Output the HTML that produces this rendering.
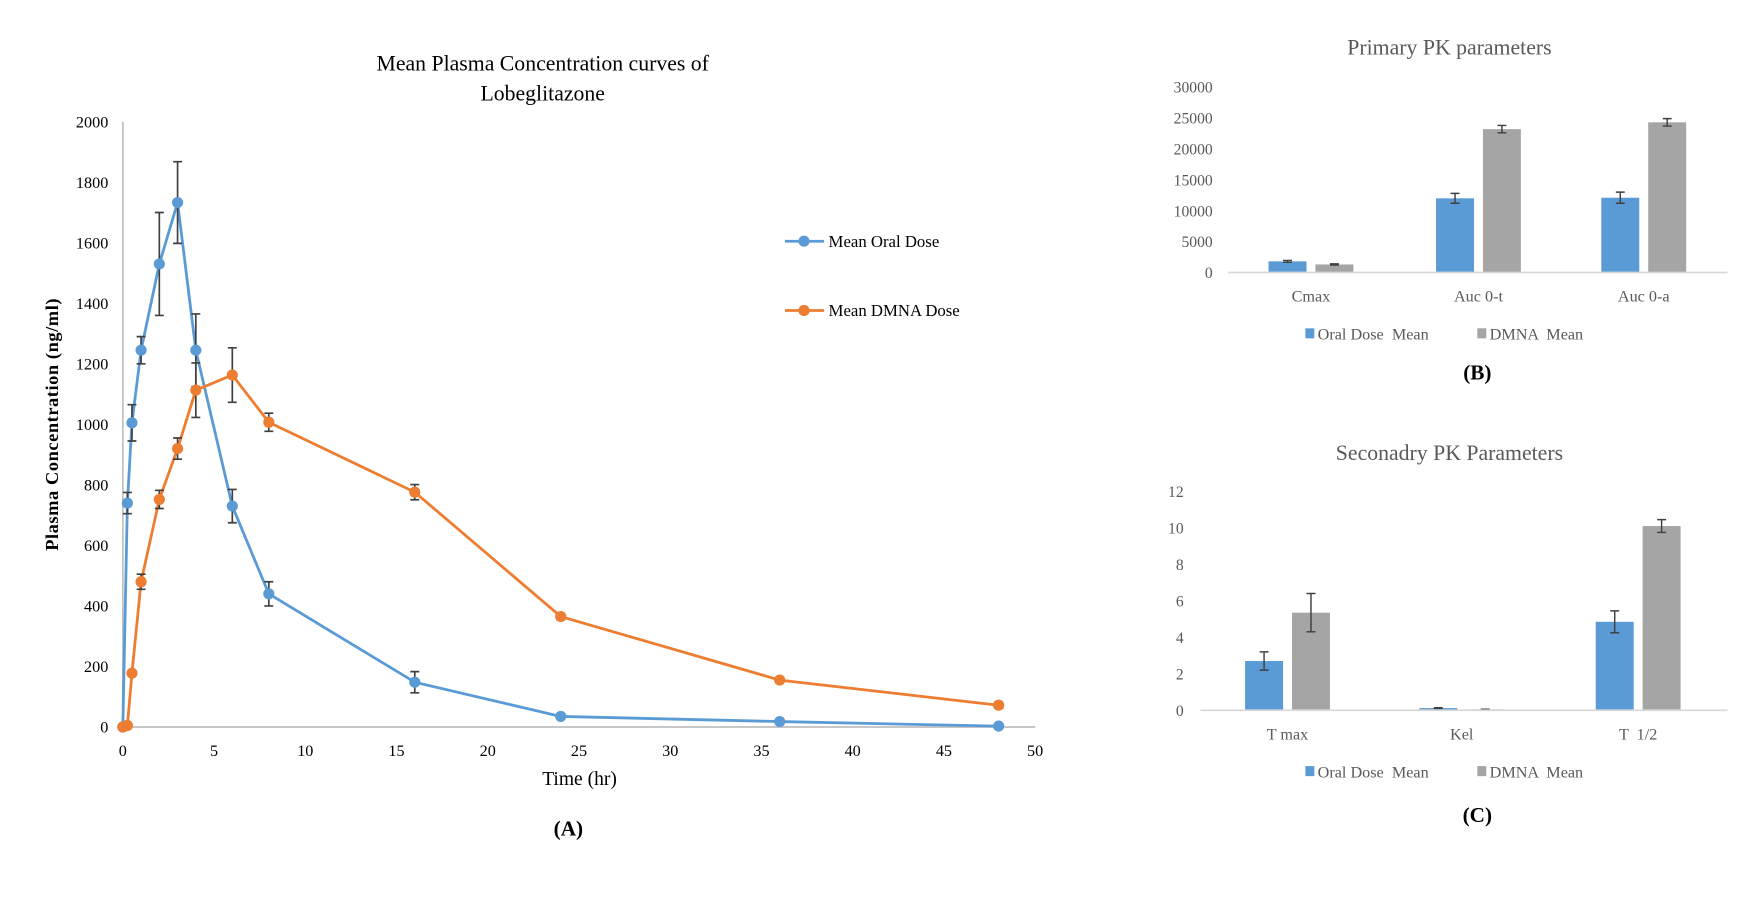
<!DOCTYPE html>
<html><head><meta charset="utf-8"><style>
html,body{margin:0;padding:0;background:#fff;overflow:hidden}
#wrap{width:1560px;height:805px;transform-origin:0 0;transform:scale(1.11667,1.11677)}
svg text{font-family:"Liberation Serif",serif;white-space:pre}
</style></head><body>
<div id="wrap">
<svg id="s" width="1560" height="805"></svg>
</div>
<script>
const times=[0,0.25,0.5,1,2,3,4,6,8,16,24,36,48];
const oralVals=[0,740,1005,1245,1530,1733,1245,730,440,148,35,18,3];
const oralErr=[0,35,60,45,170,135,120,55,40,35,8,4,2];
const dmnaVals=[0,5,178,480,752,920,1113,1163,1007,776,365,155,72];
const dmnaErr=[0,3,8,25,30,35,90,90,30,25,10,8,10];
const xTicks=[0,5,10,15,20,25,30,35,40,45,50];
const yTicks=[0,200,400,600,800,1000,1200,1400,1600,1800,2000];
const pCats=['Cmax','Auc 0-t','Auc 0-a'];
const pOral=[1800,12000,12100];
const pOralErr=[150,800,900];
const pDmna=[1300,23200,24300];
const pDmnaErr=[100,600,600];
const pTicks=[0,5000,10000,15000,20000,25000,30000];
const sCats=['T max','Kel','T  1/2'];
const sOral=[2.7,0.12,4.85];
const sOralErr=[0.5,0.02,0.6];
const sDmna=[5.35,0.05,10.1];
const sDmnaErr=[1.05,0.01,0.35];
const sTicks=[0,2,4,6,8,10,12];

const NS='http://www.w3.org/2000/svg';
const svg=document.getElementById('s');
function el(tag,attrs,parent,txt){const e=document.createElementNS(NS,tag);for(const k in attrs)e.setAttribute(k,attrs[k]);if(txt!==undefined)e.textContent=txt;(parent||svg).appendChild(e);return e;}
const BLUE='#5b9bd5',ORANGE='#ed7d31',GRAY='#a5a5a5',ERR='#404040';

// Panel A
const ax=x=>110+x/50*817, ay=v=>651-v/2000*542;
let g=el('g',{});


let t=el('text',{x:486,y:63,'text-anchor':'middle','font-size':19.5,fill:'#000'},g,'Mean Plasma Concentration curves of');

t=el('text',{x:486,y:90,'text-anchor':'middle','font-size':19.5,fill:'#000'},g,'Lobeglitazone');

let l=el('line',{x1:110,y1:109,x2:110,y2:651,stroke:'#bfbfbf','stroke-width':1.5},g);

l=el('line',{x1:110,y1:651,x2:927,y2:651,stroke:'#bfbfbf','stroke-width':1.5},g);

yTicks.forEach(v=>{const e=el('text',{x:97,y:ay(v)+5,'text-anchor':'end','font-size':14.5},g,String(v));
});
xTicks.forEach(v=>{const e=el('text',{x:ax(v),y:677,'text-anchor':'middle','font-size':14.5},g,String(v));
});
t=el('text',{x:519,y:703,'text-anchor':'middle','font-size':17.5},g,'Time (hr)');

t=el('text',{x:0,y:0,'text-anchor':'middle','font-size':16.5,'font-weight':'bold','letter-spacing':'0.5',transform:'translate(52,380) rotate(-90)'},g,'Plasma Concentration (ng/ml)');

t=el('text',{x:509,y:748,'text-anchor':'middle','font-size':19,'font-weight':'bold'},g,'(A)');

function series(vals,errs,color,name){
  const sg=el('g',{},g);
  
  
  const pts=times.map((x,i)=>ax(x)+','+ay(vals[i])).join(' ');
  const pl=el('polyline',{points:pts,fill:'none',stroke:color,'stroke-width':2.5},sg);
  
  times.forEach((x,i)=>{
    if(errs[i]>6){const X=ax(x),y1=ay(vals[i]+errs[i]),y2=ay(vals[i]-errs[i]);
      const p=el('path',{d:`M${X},${y1}V${y2}M${X-4},${y1}H${X+4}M${X-4},${y2}H${X+4}`,stroke:ERR,'stroke-width':1.5,fill:'none'},sg);
      }
    const c=el('circle',{cx:ax(x),cy:ay(vals[i]),r:5,fill:color},sg);
    
  });
}
series(oralVals,oralErr,BLUE,'oral-series');
series(dmnaVals,dmnaErr,ORANGE,'dmna-series');
[[216,BLUE,'Mean Oral Dose','legend-oral'],[278,ORANGE,'Mean DMNA Dose','legend-dmna']].forEach(([y,c,s,n])=>{
  const lg=el('g',{},g);
  el('line',{x1:703,y1:y,x2:738,y2:y,stroke:c,'stroke-width':2.5},lg);
  el('circle',{cx:720,cy:y,r:5,fill:c},lg);
  el('text',{x:742,y:y+5,'font-size':15},lg,s);
});

function barChart(name,cats,oral,oe,dm,de,ticks,maxV,y0,yTop,axL,centers,title,titleY,legY,lab,labY,tickX){
  const bg=el('g',{});
  
  
  const by=v=>y0-v/maxV*(y0-yTop);
  let e=el('text',{x:1298,y:titleY,'text-anchor':'middle','font-size':19.5,fill:'#595959'},bg,title);
  
  ticks.forEach(v=>{const k=el('text',{x:tickX,y:by(v)+5,'text-anchor':'end','font-size':14,fill:'#595959'},bg,String(v));
    });
  cats.forEach((c,i)=>{
    const cx=centers[i];
    [[oral,oe,BLUE,-38,'bar-oral'],[dm,de,GRAY,4,'bar-dmna']].forEach(([vals,errs,col,off,bn])=>{
      const r=el('rect',{x:cx+off,y:by(vals[i]),width:34,height:y0-by(vals[i]),fill:col},bg);
      
      const X=cx+off+17,y1=by(vals[i]+errs[i]),y2=by(vals[i]-errs[i]);
      const p=el('path',{d:`M${X},${y1}V${y2}M${X-4},${y1}H${X+4}M${X-4},${y2}H${X+4}`,stroke:ERR,'stroke-width':1.3,fill:'none'},bg);
      
    });
    const k=el('text',{x:cx,y:y0+26,'text-anchor':'middle','font-size':14.5,fill:'#595959'},bg,c);
    
  });
  e=el('line',{x1:axL,y1:y0,x2:1547,y2:y0,stroke:'#d9d9d9','stroke-width':1.5},bg);
  
  [[1169,BLUE,'Oral Dose  Mean','legend-oral'],[1323,GRAY,'DMNA  Mean','legend-dmna']].forEach(([x,c,s,n])=>{
    const lg=el('g',{},bg);
    el('rect',{x:x,y:legY-12,width:8,height:9,fill:c},lg);
    el('text',{x:x+11,y:legY-2,'font-size':14.5,fill:'#595959'},lg,s);
  });
  e=el('text',{x:1323,y:labY,'text-anchor':'middle','font-size':19,'font-weight':'bold'},bg,lab);
  
}
barChart('primary-pk-chart',pCats,pOral,pOralErr,pDmna,pDmnaErr,pTicks,30000,244,78,1100,[1174,1324,1472],'Primary PK parameters',49,306,'(B)',340,1086);
barChart('secondary-pk-chart',sCats,sOral,sOralErr,sDmna,sDmnaErr,sTicks,12,636,440,1075,[1153,1309,1467],'Seconadry PK Parameters',412,698,'(C)',736,1060);
</script>
</body></html>
